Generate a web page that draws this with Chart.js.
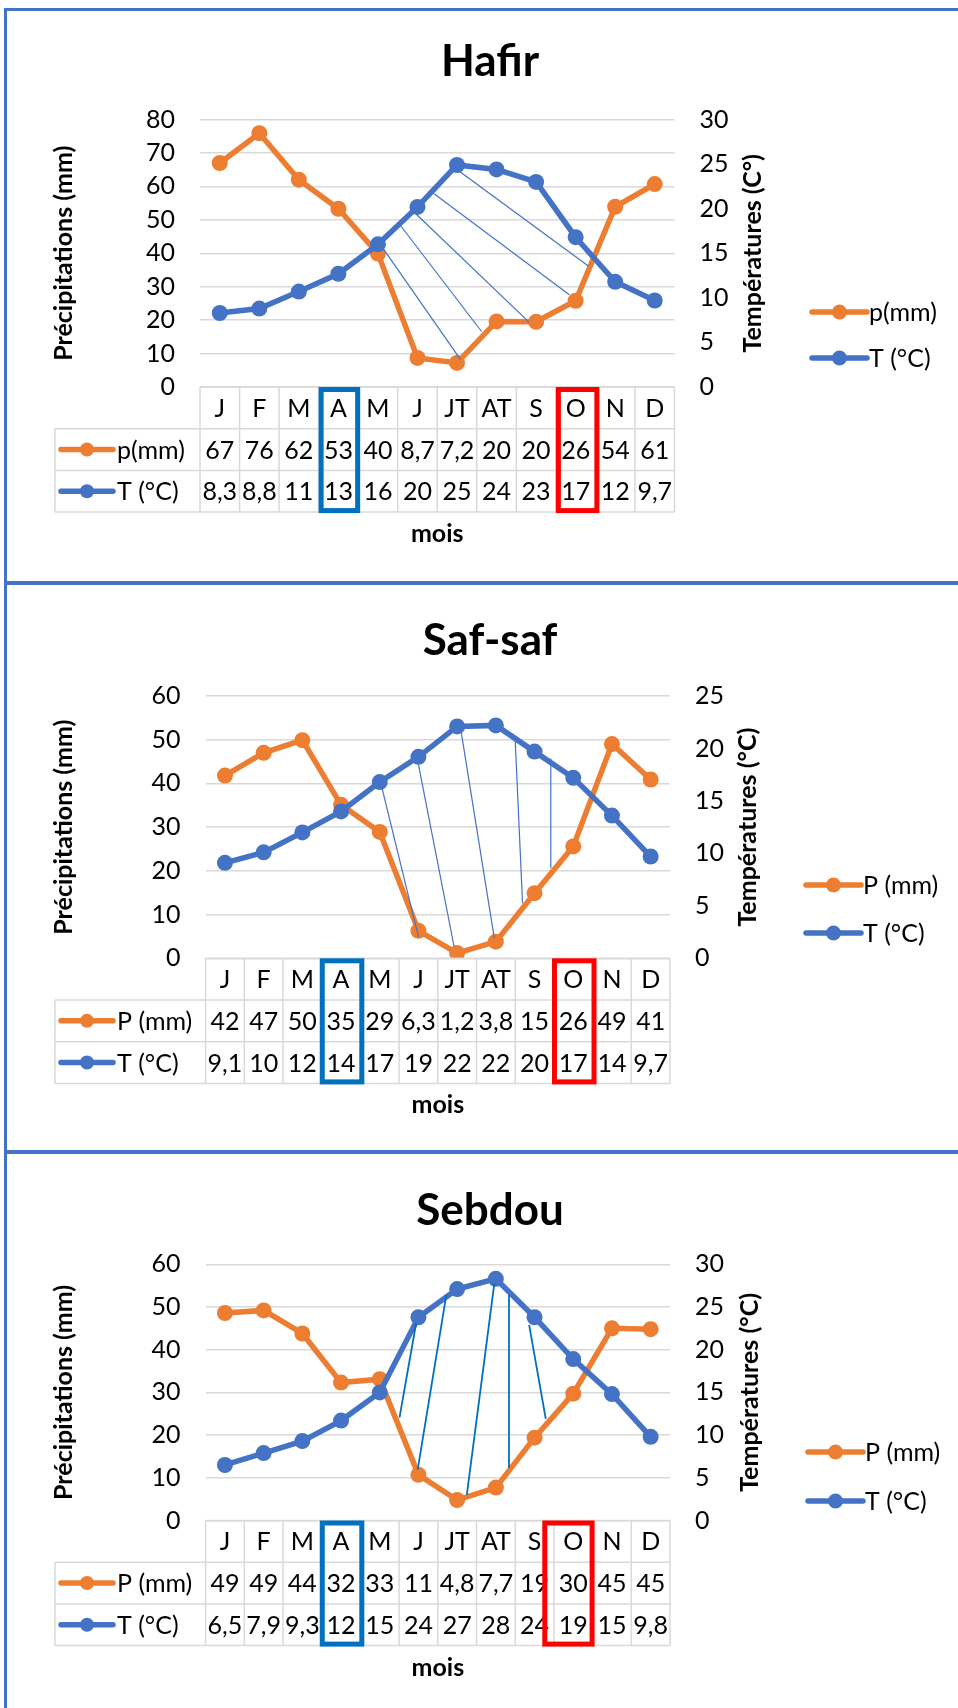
<!DOCTYPE html>
<html lang="fr">
<head>
<meta charset="utf-8">
<title>Diagrammes ombrothermiques</title>
<script src="https://cdn.jsdelivr.net/npm/chart.js@4.4.1/dist/chart.umd.min.js"></script>
<style>
  html, body { margin: 0; padding: 0; background: #ffffff; }
  #page { position: relative; width: 958px; height: 1708px; overflow: hidden; background: #ffffff; }
  #page canvas { position: absolute; left: 0; }
  .rule { position: absolute; background: #4472C4; }
</style>
</head>
<body>
<div id="page">
  <canvas id="hafir" width="958" height="583" style="top:0;width:958px;height:583px"></canvas>
  <canvas id="safsaf" width="958" height="569" style="top:583px;width:958px;height:569px"></canvas>
  <canvas id="sebdou" width="958" height="556" style="top:1152px;width:958px;height:556px"></canvas>
  <div class="rule" style="left:4px;top:8px;width:954px;height:3px"></div>
  <div class="rule" style="left:4px;top:8px;width:3px;height:1700px"></div>
  <div class="rule" style="left:4px;top:581px;width:954px;height:4px"></div>
  <div class="rule" style="left:4px;top:1150px;width:954px;height:4px"></div>
</div>
<script>
// Months shown in the data table under each diagram
const months = ['J', 'F', 'M', 'A', 'M', 'J', 'JT', 'AT', 'S', 'O', 'N', 'D'];

// Hafir: monthly rainfall (mm) and mean temperature (°C)
const hafirRain = [67.0, 75.9, 62.0, 53.3, 39.9, 8.7, 7.2, 19.6, 19.5, 25.8, 53.9, 60.7];
const hafirTemp = [8.3, 8.8, 10.7, 12.7, 16.0, 20.2, 24.9, 24.4, 23.0, 16.8, 11.8, 9.7];

// Saf-saf
const safsafRain = [41.8, 47.0, 49.9, 35.1, 28.9, 6.3, 1.2, 3.8, 14.9, 25.6, 49.0, 40.9];
const safsafTemp = [9.1, 10.1, 12.0, 14.0, 16.8, 19.2, 22.1, 22.2, 19.7, 17.2, 13.6, 9.7];

// Sebdou
const sebdouRain = [48.6, 49.2, 43.8, 32.3, 33.1, 10.7, 4.8, 7.7, 19.4, 29.7, 45.0, 44.8];
const sebdouTemp = [6.5, 7.9, 9.3, 11.7, 15.0, 23.8, 27.1, 28.3, 23.8, 18.9, 14.8, 9.8];

// Axis tick values (rainfall on the left, temperature on the right)
const hafirRainTicks = [0, 10, 20, 30, 40, 50, 60, 70, 80];
const hafirTempTicks = [0, 5, 10, 15, 20, 25, 30];
const safsafRainTicks = [0, 10, 20, 30, 40, 50, 60];
const safsafTempTicks = [0, 5, 10, 15, 20, 25];
const sebdouRainTicks = [0, 10, 20, 30, 40, 50, 60];
const sebdouTempTicks = [0, 5, 10, 15, 20, 25, 30];

// Dry-season hatching: [month index, rainfall mm] -> [month index, rainfall mm]
const hafirHatch = [
  [4.12, 41.6, 6.09, 8.2],
  [4.57, 48.3, 6.62, 16.6],
  [4.93, 52.1, 7.82, 19.4],
  [5.42, 57.8, 8.84, 27.6],
  [5.98, 65.2, 9.33, 36.1]
];
const safsafHatch = [
  [4.04, 39.6, 5.00, 4.9],
  [4.97, 45.7, 5.92, 2.7],
  [6.09, 52.6, 6.96, 4.6],
  [7.50, 49.9, 7.69, 12.6],
  [8.42, 45.7, 8.42, 20.6]
];
const sebdouHatch = [
  [4.94, 46.2, 4.51, 24.1],
  [5.72, 52.8, 4.98, 11.9],
  [6.96, 55.5, 6.25, 6.0],
  [7.34, 52.8, 7.34, 12.3],
  [7.86, 45.8, 8.29, 23.8]
];

const ORANGE = '#ED7D31';
const BLUE = '#4472C4';
const TEXT = '#000000';
const GRID = '#D9D9D9';
const FONT = 'Lato, "Open Sans", "DejaVu Sans", sans-serif';
const FS = 25;

// Table cells use the short "General" style: one decimal below 10, integers above
function fmtValue(v) {
  const r = Math.round(v * 10) / 10;
  if (r >= 10) return String(Math.round(v));
  return (Number.isInteger(r) ? String(r) : r.toFixed(1)).replace('.', ',');
}

function drawKey(ctx, x1, x2, y, color, radius) {
  ctx.save();
  ctx.strokeStyle = color;
  ctx.fillStyle = color;
  ctx.lineWidth = 5.5;
  ctx.lineCap = 'round';
  ctx.beginPath();
  ctx.moveTo(x1, y);
  ctx.lineTo(x2, y);
  ctx.stroke();
  ctx.beginPath();
  ctx.arc((x1 + x2) / 2, y, radius, 0, Math.PI * 2);
  ctx.fill();
  ctx.restore();
}

// Draws the data table, month boxes, hatching, legend and titles around each chart
const panelDecor = {
  id: 'panelDecor',
  afterDatasetsDraw(chart, args, o) {
    const ctx = chart.ctx;
    const xs = chart.scales.x;
    const ys = chart.scales.yP;
    ctx.save();
    ctx.strokeStyle = o.hatchColor;
    ctx.lineWidth = o.hatchWidth;
    o.hatch.forEach(h => {
      ctx.beginPath();
      ctx.moveTo(xs.getPixelForValue(h[0]), ys.getPixelForValue(h[1]));
      ctx.lineTo(xs.getPixelForValue(h[2]), ys.getPixelForValue(h[3]));
      ctx.stroke();
    });
    ctx.restore();
  },
  afterDraw(chart, args, o) {
    const ctx = chart.ctx;
    const ca = chart.chartArea;
    const xs = chart.scales.x;
    const step = xs.getPixelForValue(1) - xs.getPixelForValue(0);
    const left = xs.getPixelForValue(0) - step / 2;
    const right = xs.getPixelForValue(months.length - 1) + step / 2;
    const rowH = 41.7;
    const y0 = ca.bottom, y1 = y0 + rowH, y2 = y0 + 2 * rowH, y3 = y0 + 3 * rowH;
    const labelLeft = 55;
    const rain = chart.data.datasets[0].data;
    const temp = chart.data.datasets[1].data;

    // table grid
    ctx.save();
    ctx.strokeStyle = GRID;
    ctx.lineWidth = 1.5;
    ctx.beginPath();
    ctx.moveTo(left, y0); ctx.lineTo(right, y0);
    [y1, y2, y3].forEach(y => { ctx.moveTo(labelLeft, y); ctx.lineTo(right, y); });
    for (let k = 0; k <= months.length; k++) {
      const x = left + k * step;
      ctx.moveTo(x, y0); ctx.lineTo(x, y3);
    }
    ctx.moveTo(labelLeft, y1); ctx.lineTo(labelLeft, y3);
    ctx.stroke();

    // table text
    ctx.fillStyle = TEXT;
    ctx.font = FS + 'px ' + FONT;
    ctx.textAlign = 'center';
    ctx.textBaseline = 'middle';
    months.forEach((m, i) => {
      const x = xs.getPixelForValue(i);
      ctx.fillText(m, x, (y0 + y1) / 2 + 1);
      ctx.fillText(fmtValue(rain[i]), x, (y1 + y2) / 2 + 1);
      ctx.fillText(fmtValue(temp[i]), x, (y2 + y3) / 2 + 1);
    });
    ctx.textAlign = 'left';
    ctx.fillText(chart.data.datasets[0].label, 117, (y1 + y2) / 2 + 1);
    ctx.fillText(chart.data.datasets[1].label, 117, (y2 + y3) / 2 + 1);
    ctx.restore();
    drawKey(ctx, 61, 113, (y1 + y2) / 2, ORANGE, 7);
    drawKey(ctx, 61, 113, (y2 + y3) / 2, BLUE, 7);

    // highlighted months
    ctx.save();
    ctx.lineWidth = 5;
    o.boxes.forEach(b => {
      const xa = xs.getPixelForValue(b.from);
      const xb = xs.getPixelForValue(b.to);
      ctx.strokeStyle = b.color;
      ctx.strokeRect(xa + 2.5, y0 + 2.5, xb - xa - 3, y3 - y0 - 4);
    });
    ctx.restore();

    ctx.save();
    ctx.fillStyle = TEXT;
    ctx.textAlign = 'center';
    ctx.textBaseline = 'middle';

    // x axis title
    ctx.font = 'bold ' + FS + 'px ' + FONT;
    ctx.fillText('mois', (ca.left + ca.right) / 2, y3 + 22);

    // y axis titles
    const midY = (ca.top + ca.bottom) / 2;
    ctx.save();
    ctx.translate(o.leftTitleX, midY);
    ctx.rotate(-Math.PI / 2);
    ctx.fillText('Précipitations (mm)', 0, 0);
    ctx.restore();
    ctx.save();
    ctx.translate(o.rightTitleX, midY);
    ctx.rotate(-Math.PI / 2);
    ctx.fillText(o.rightTitle, 0, 0);
    ctx.restore();

    // chart title
    ctx.font = 'bold 44px ' + FONT;
    ctx.textBaseline = 'alphabetic';
    ctx.fillText(o.title, 490, o.titleBaseline);

    // legend
    ctx.font = FS + 'px ' + FONT;
    ctx.textAlign = 'left';
    ctx.textBaseline = 'middle';
    chart.data.datasets.forEach((ds, i) => {
      ctx.fillText(ds.label, o.legendX + 57, o.legendY[i] + 1);
    });
    ctx.restore();
    chart.data.datasets.forEach((ds, i) => {
      drawKey(ctx, o.legendX, o.legendX + 55, o.legendY[i], ds.borderColor, 7.5);
    });
  }
};

function buildChart(id, p) {
  const canvas = document.getElementById(id);
  const H = canvas.height;
  const W = canvas.width;
  const rainTicks = p.rainTicks, tempTicks = p.tempTicks;
  const tickFont = { family: FONT, size: FS };
  return new Chart(canvas, {
    type: 'line',
    data: {
      labels: months,
      datasets: [
        {
          label: p.rainLabel, data: p.rain, yAxisID: 'yP', order: 1,
          borderColor: ORANGE, backgroundColor: ORANGE, borderWidth: 5.5,
          pointRadius: 8, pointBorderWidth: 0, pointBackgroundColor: ORANGE,
          tension: 0, fill: false
        },
        {
          label: p.tempLabel, data: p.temp, yAxisID: 'yT', order: 0,
          borderColor: BLUE, backgroundColor: BLUE, borderWidth: 5.5,
          pointRadius: 8, pointBorderWidth: 0, pointBackgroundColor: BLUE,
          tension: 0, fill: false
        }
      ]
    },
    options: {
      responsive: false,
      animation: false,
      events: [],
      layout: { padding: { top: p.area.top, bottom: H - p.area.bottom, left: 0, right: 0 } },
      plugins: {
        legend: { display: false },
        title: { display: false },
        tooltip: { enabled: false },
        panelDecor: {
          title: p.title, titleBaseline: p.titleBaseline,
          rightTitle: p.rightTitle, rightTitleX: p.rightTitleX, leftTitleX: 64,
          legendX: p.legendX, legendY: p.legendY,
          hatch: p.hatch, hatchColor: p.hatchColor, hatchWidth: p.hatchWidth,
          boxes: p.boxes
        }
      },
      scales: {
        x: { type: 'category', offset: true, display: false },
        yP: {
          position: 'left',
          min: rainTicks[0], max: rainTicks[rainTicks.length - 1],
          ticks: { stepSize: rainTicks[1] - rainTicks[0], color: TEXT, font: tickFont, padding: 25 },
          grid: { color: GRID, lineWidth: 1.5, drawTicks: false },
          border: { display: false },
          afterFit(s) { s.width = p.area.left; }
        },
        yT: {
          position: 'right',
          min: tempTicks[0], max: tempTicks[tempTicks.length - 1],
          ticks: { stepSize: tempTicks[1] - tempTicks[0], color: TEXT, font: tickFont, padding: 25 },
          grid: { display: false, drawTicks: false },
          border: { display: false },
          afterFit(s) { s.width = W - p.area.right; }
        }
      }
    },
    plugins: [panelDecor]
  });
}

buildChart('hafir', {
  title: 'Hafir', titleBaseline: 76,
  rain: hafirRain, temp: hafirTemp, rainTicks: hafirRainTicks, tempTicks: hafirTempTicks,
  rainLabel: 'p(mm)', tempLabel: 'T (°C)', rightTitle: 'Températures (C°)', rightTitleX: 753,
  area: { top: 119.5, bottom: 387, left: 200, right: 674.5 },
  legendX: 812, legendY: [312, 358],
  hatch: hafirHatch, hatchColor: BLUE, hatchWidth: 1.2,
  boxes: [{ from: 2.5, to: 3.5, color: '#0070C0' }, { from: 8.5, to: 9.55, color: '#FF0000' }]
});

buildChart('safsaf', {
  title: 'Saf-saf', titleBaseline: 72,
  rain: safsafRain, temp: safsafTemp, rainTicks: safsafRainTicks, tempTicks: safsafTempTicks,
  rainLabel: 'P (mm)', tempLabel: 'T (°C)', rightTitle: 'Températures (°C)', rightTitleX: 748,
  area: { top: 113, bottom: 375.3, left: 205.6, right: 670 },
  legendX: 806, legendY: [302, 350],
  hatch: safsafHatch, hatchColor: BLUE, hatchWidth: 1.2,
  boxes: [{ from: 2.45, to: 3.55, color: '#0070C0' }, { from: 8.45, to: 9.55, color: '#FF0000' }]
});

buildChart('sebdou', {
  title: 'Sebdou', titleBaseline: 73,
  rain: sebdouRain, temp: sebdouTemp, rainTicks: sebdouRainTicks, tempTicks: sebdouTempTicks,
  rainLabel: 'P (mm)', tempLabel: 'T (°C)', rightTitle: 'Températures (°C)', rightTitleX: 750,
  area: { top: 112.3, bottom: 368.5, left: 205.6, right: 670 },
  legendX: 808, legendY: [300, 349],
  hatch: sebdouHatch, hatchColor: '#0070C0', hatchWidth: 1.8,
  boxes: [{ from: 2.45, to: 3.55, color: '#0070C0' }, { from: 8.2, to: 9.5, color: '#FF0000' }]
});
</script>
</body>
</html>
